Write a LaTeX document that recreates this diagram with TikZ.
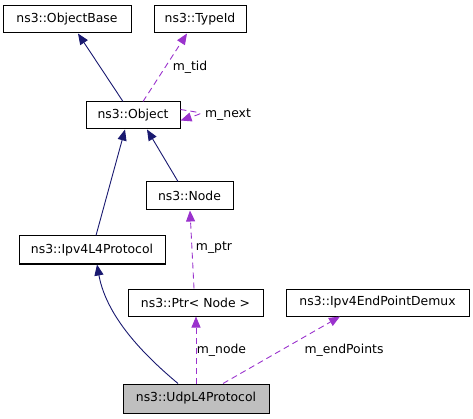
\documentclass[tikz,border=0pt]{standalone}
\usepackage{fontspec}
\setmainfont{DejaVu Sans}
\usetikzlibrary{arrows.meta}
\definecolor{edgeblue}{HTML}{191970}
\definecolor{edgepurple}{HTML}{9A32CD}
\definecolor{grayfill}{HTML}{BFBFBF}
\begin{document}
\begin{tikzpicture}[x=1pt,y=-1pt,
  every node/.style={font=\fontsize{12.4}{14}\selectfont},
  cls/.style={draw=black,line width=1pt,fill=white,inner sep=0pt,minimum height=27pt},
  inh/.style={draw=edgeblue,line width=0.9pt,-{Triangle[length=11pt,width=9pt]}},
  use/.style={draw=edgepurple,line width=0.9pt,dash pattern=on 6pt off 4pt,-{Triangle[length=11pt,width=9pt]}},
  lbl/.style={inner sep=1pt}]
\useasboundingbox (0,0) rectangle (473,419);
\node[cls,minimum width=128pt] (ob) at (67,19.5) {ns3::ObjectBase};
\node[cls,minimum width=92pt] (tid) at (200,19.5) {ns3::TypeId};
\node[cls,minimum width=94pt] (obj) at (133,115.5) {ns3::Object};
\node[cls,minimum width=87pt,minimum height=28pt] (nd) at (189.5,196) {ns3::Node};
\node[cls,minimum width=146pt,minimum height=28pt] (l4) at (92,250) {ns3::Ipv4L4Protocol};
\node[cls,minimum width=135pt] (ptr) at (195.5,302.5) {ns3::Ptr< Node >};
\node[cls,minimum width=183pt] (dmx) at (377.5,302.5) {ns3::Ipv4EndPointDemux};
\node[cls,minimum width=146pt,minimum height=29pt,fill=grayfill] (udp) at (196,398.5) {ns3::UdpL4Protocol};

\draw[inh] ([xshift=-10pt]obj.north) -- ([xshift=11pt]ob.south);
\draw[use] ([xshift=10pt]obj.north) -- ([xshift=-13pt]tid.south);
\node[lbl] (ltid) at (190,67) {m\_tid};
\draw[use] ([yshift=6pt]obj.east) .. controls +(24,4) and +(24,-8) .. ([yshift=-5pt]obj.east);
\node[lbl] (lnext) at (228,115) {m\_next};
\draw[inh] ([xshift=4pt]l4.north) -- ([xshift=-8pt]obj.south);
\draw[inh] ([xshift=-11.5pt]nd.north) -- ([xshift=14pt]obj.south);
\draw[use] ([xshift=-1.5pt]ptr.north) -- ([xshift=0.5pt]nd.south);
\node[lbl] (lptr) at (214,248) {m\_ptr};
\draw[inh] ([xshift=-18pt]udp.north) .. controls (150,360) and (107,320) .. ([xshift=5pt]l4.south);
\draw[use] (udp.north) -- ([xshift=0.5pt]ptr.south);
\node[lbl] (lnode) at (221.5,350) {m\_node};
\draw[use] ([xshift=27pt]udp.north) -- ([xshift=-37.5pt]dmx.south);
\node[lbl] (lend) at (344,350) {m\_endPoints};
\end{tikzpicture}
\end{document}
